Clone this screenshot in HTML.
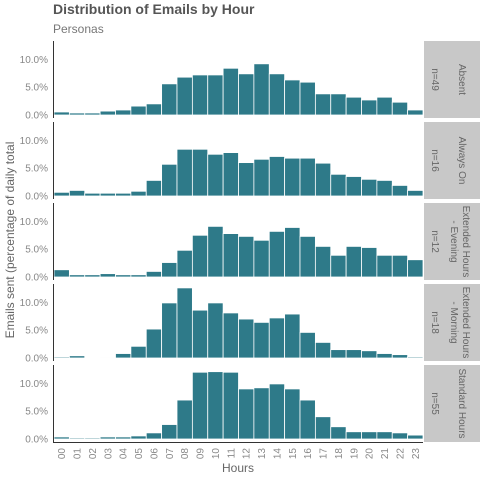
<!DOCTYPE html>
<html><head><meta charset="utf-8"><style>
body{margin:0;background:#fff;}
svg{display:block;font-family:"Liberation Sans",sans-serif;}
</style></head><body>
<svg id="chart" width="480" height="480" viewBox="0 0 480 480">
<text x="53" y="14" font-size="14" font-weight="bold" fill="#555">Distribution of Emails by Hour</text>
<text x="53" y="33" font-size="12" fill="#777">Personas</text>
<text transform="translate(14,240) rotate(-90)" text-anchor="middle" font-size="12" fill="#666">Emails sent (percentage of daily total</text>
<text x="238" y="472" text-anchor="middle" font-size="12" fill="#666">Hours</text>
<g id="panels"></g>
</svg>
<script>
const hours = ["00","01","02","03","04","05","06","07","08","09","10","11","12","13","14","15","16","17","18","19","20","21","22","23"];
const personaLabels = [["Absent"],["Always On"],["Extended Hours","- Evening"],["Extended Hours","- Morning"],["Standard Hours"]];
const personaCounts = ["n=49","n=16","n=12","n=18","n=55"];
const yTicks = [0,5,10];
const yTickLabels = ["0.0%","5.0%","10.0%"];
const absentValues = [0.54,0.36,0.36,0.7,0.9,1.6,2.0,5.6,6.8,7.2,7.2,8.4,7.4,9.2,7.4,6.3,5.9,3.8,3.8,3.2,2.7,3.2,2.3,0.9];
const alwaysOnValues = [0.66,1.0,0.5,0.5,0.5,0.85,2.8,5.7,8.4,8.4,7.5,7.8,6.0,6.6,7.1,6.8,6.8,5.9,3.9,3.5,3.0,2.8,1.9,1.0];
const eveningValues = [1.3,0.4,0.4,0.6,0.4,0.4,1.0,2.6,4.8,7.5,9.1,7.8,7.3,6.6,8.2,8.9,7.3,5.5,3.9,5.5,5.3,3.9,3.9,3.1];
const morningValues = [0.2,0.4,0,0.1,0.8,2.1,5.2,9.9,12.6,8.6,9.9,8.1,7.0,6.4,7.2,7.9,4.6,2.8,1.5,1.5,1.3,0.8,0.6,0.2];
const standardValues = [0.37,0.2,0.2,0.37,0.37,0.55,1.1,2.6,7.0,12.0,12.1,12.0,9.0,9.2,9.9,9.0,7.0,4.0,2.2,1.3,1.3,1.3,1.1,0.7];
const seriesList = [absentValues,alwaysOnValues,eveningValues,morningValues,standardValues];

const NS="http://www.w3.org/2000/svg";
const g=document.getElementById('panels');
const X0=54,X1=423,PH=77,STEP=81,TOP0=41,YMIN=-0.54,YMAX=13.3;
const bw=(X1-X0)/hours.length;
function xPos(i){return X0+i*bw;}
function mk(t,a,p){const e=document.createElementNS(NS,t);for(const k in a)e.setAttribute(k,a[k]);(p||g).appendChild(e);return e;}
seriesList.forEach((vals,pi)=>{
  const top=TOP0+pi*STEP;
  const yS=v=>top+PH-(v-YMIN)/(YMAX-YMIN)*PH;
  const pg=mk('g',{});
  
  
  yTicks.forEach((t,ti)=>{
    const tx=mk('text',{x:48,y:yS(t)+3.5,'text-anchor':'end','font-size':10,fill:'#888'},pg);
    tx.textContent=yTickLabels[ti];
    
    
  });
  vals.forEach((v,i)=>{
    const y0=yS(0),y1=yS(v);
    if(v<=0)return;
    const r=mk('rect',{x:xPos(i),y:y1,width:bw,height:y0-y1,fill:'#2e7a89',stroke:'#fff','stroke-width':0.8},pg);
    
    
  });
  const ax=mk('line',{x1:53.5,x2:53.5,y1:top,y2:top+PH,stroke:'#333','stroke-width':1},pg);
  
  
  const st=mk('rect',{x:424,y:top,width:56,height:PH,fill:'#c8c8c8'},pg);
  
  
  const cy=top+PH/2;
  const lines=personaLabels[pi];
  const lx=lines.length==1?[459]:[463,451];
  lines.forEach((ln,li)=>{
    const t=mk('text',{transform:`translate(${lx[li]},${cy}) rotate(90)`,'text-anchor':'middle','font-size':10,fill:'#666'},pg);
    t.textContent=ln;
    
    
  });
  const n=mk('text',{transform:`translate(432,${cy}) rotate(90)`,'text-anchor':'middle','font-size':10,fill:'#666'},pg);
  n.textContent=personaCounts[pi];
  
  
});
const bottom=TOP0+4*STEP+PH;
const xl=mk('line',{x1:53,x2:X1,y1:bottom+0.5,y2:bottom+0.5,stroke:'#333','stroke-width':1});


hours.forEach((h,i)=>{
  const t=mk('text',{transform:`translate(${xPos(i)+bw/2+3.5},${bottom+6}) rotate(-90)`,'text-anchor':'end','font-size':10,fill:'#888'});
  t.textContent=h;
  
  
});
</script>
</body></html>
